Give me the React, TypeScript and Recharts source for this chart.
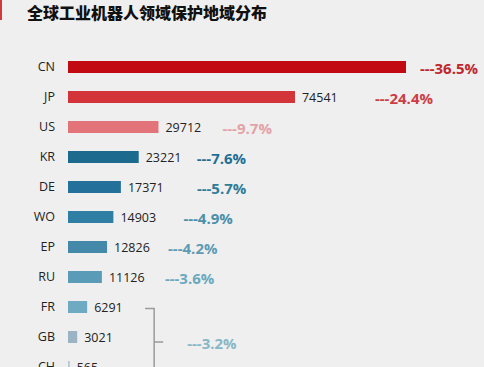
import React from "react";
import { BarChart, Bar, XAxis, YAxis, Cell, LabelList } from "recharts";

const codes = ["CN", "JP", "US", "KR", "DE", "WO", "EP", "RU", "FR", "GB", "CH"];
const counts = [111000, 74541, 29712, 23221, 17371, 14903, 12826, 11126, 6291, 3021, 565];
const shares = ["36.5%", "24.4%", "9.7%", "7.6%", "5.7%", "4.9%", "4.2%", "3.6%"];
const groupShare = "3.2%";

const barColors = [
  "#c20a12", "#d3343a", "#e27378", "#1c6a8e", "#23719a", "#2f7ea3",
  "#4489aa", "#5a9bb8", "#6eaac2", "#9ab3c5", "#b4c6d2",
];
const shareColors = [
  "#c0262c", "#cc3e46", "#e3a2a6", "#1f6f96", "#2f7c98", "#4a8fab",
  "#5d9bb5", "#6aa9be",
];
// gap in px between bar end and the share label
const shareGaps = [14, 80, 64, 58, 76, 70, 61, 63];

const W = 484;
const H = 390;
const margin = { top: 52, right: 16, bottom: 8, left: 0 };
const rowStep = (H - margin.top - margin.bottom) / codes.length;

const data = codes.map((code, i) => ({ code, count: counts[i] }));

const FONT = "'Open Sans', 'Liberation Sans', sans-serif";

const ValueLabel = (props: any) => {
  const { x, y, width, height, index, value } = props;
  if (index === 0) return null;
  return (
    <text
      x={x + width + 7}
      y={y + height / 2}
      dominantBaseline="central"
      fontSize={12.5}
      fontFamily={FONT}
      fill="#222"
    >
      {value}
    </text>
  );
};

const ShareLabel = (props: any) => {
  const { x, y, width, height, index } = props;
  const cy = y + height / 2;
  if (index < shares.length) {
    return (
      <text
        x={x + width + shareGaps[index]}
        y={cy + 1}
        dominantBaseline="central"
        fontSize={15}
        fontWeight={700}
        fontFamily={FONT}
        fill={shareColors[index]}
      >
        {"---" + shares[index]}
      </text>
    );
  }
  if (index === shares.length) {
    // bracket grouping the small regions
    const bx = x + width + 67;
    const top = cy + 1.5;
    const mid = cy + rowStep + 5;
    const bottom = cy + rowStep * 2 + 8;
    return (
      <g>
        <path
          d={`M${bx - 9},${top} L${bx},${top} L${bx},${bottom} M${bx},${mid} L${bx + 9},${mid}`}
          stroke="#9a9a9a"
          strokeWidth={1.5}
          fill="none"
        />
        <text
          x={bx + 33}
          y={mid + 1}
          dominantBaseline="central"
          fontSize={15}
          fontWeight={700}
          fontFamily={FONT}
          fill="#86b7c6"
        >
          {"---" + groupShare}
        </text>
      </g>
    );
  }
  return null;
};

const App: React.FC = () => {
  return (
    <div
      style={{
        position: "fixed",
        left: 0,
        top: 0,
        width: 484,
        height: 367,
        overflow: "hidden",
        background: "#efefef",
      }}
    >
      <div style={{ position: "absolute", left: 0, top: 0, width: 2, height: 20, background: "#d23a3a" }} />
      <div
        style={{
          position: "absolute",
          left: 27,
          top: 2,
          fontSize: 16,
          fontWeight: 900,
          fontFamily: "'Noto Sans CJK SC', sans-serif",
          color: "#111",
          lineHeight: "20px",
        }}
      >
        全球工业机器人领域保护地域分布
      </div>
      <BarChart width={W} height={H} data={data} layout="vertical" margin={margin}>
        <XAxis type="number" hide domain={[0, 131360]} />
        <YAxis
          type="category"
          dataKey="code"
          width={68}
          axisLine={false}
          tickLine={false}
          tickMargin={7}
          interval={0}
          tick={{ fontSize: 12.5, fontFamily: FONT, fill: "#222" }}
        />
        <Bar dataKey="count" barSize={12} isAnimationActive={false}>
          {data.map((d, i) => (
            <Cell key={d.code} fill={barColors[i]} />
          ))}
          <LabelList dataKey="count" content={ValueLabel} />
          <LabelList dataKey="count" content={ShareLabel} />
        </Bar>
      </BarChart>
    </div>
  );
};

export default App;
